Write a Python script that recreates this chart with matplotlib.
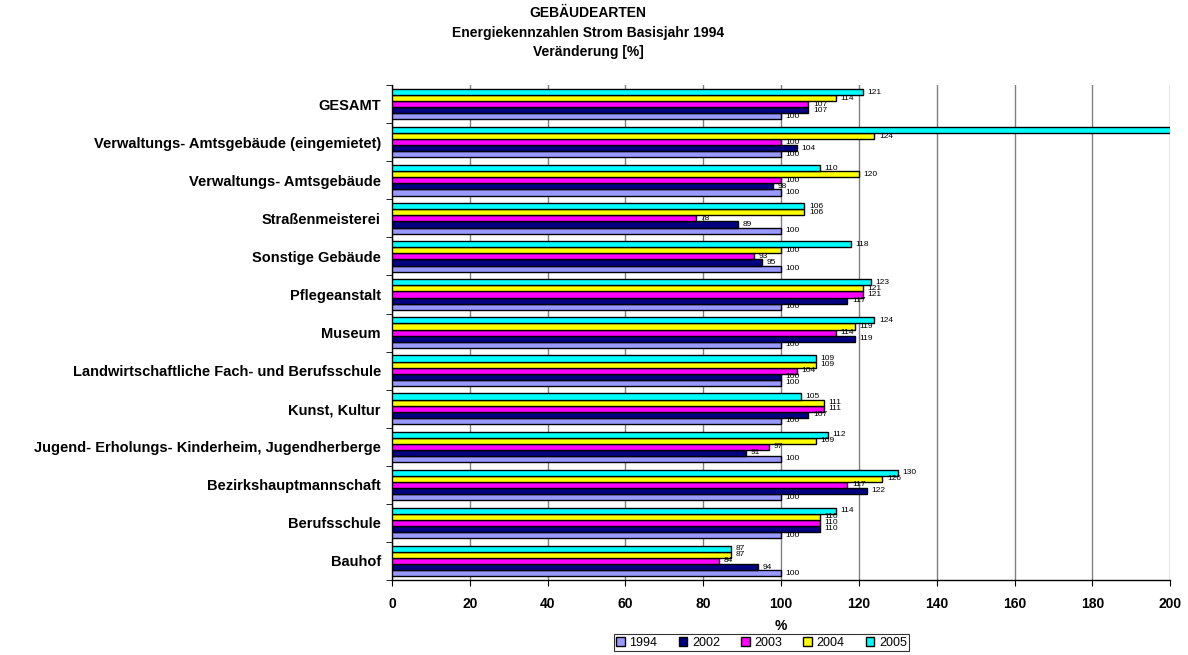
import numpy as np
import matplotlib.pyplot as plt

plt.rcParams['font.family'] = ['Liberation Sans', 'DejaVu Sans']

# categories bottom -> top, as in the chart
categories = [
    'Bauhof',
    'Berufsschule',
    'Bezirkshauptmannschaft',
    'Jugend- Erholungs- Kinderheim, Jugendherberge',
    'Kunst, Kultur',
    'Landwirtschaftliche Fach- und Berufsschule',
    'Museum',
    'Pflegeanstalt',
    'Sonstige Gebäude',
    'Straßenmeisterei',
    'Verwaltungs- Amtsgebäude',
    'Verwaltungs- Amtsgebäude (eingemietet)',
    'GESAMT',
]
years = ['1994', '2002', '2003', '2004', '2005']
v1994 = [100, 100, 100, 100, 100, 100, 100, 100, 100, 100, 100, 100, 100]
v2002 = [94, 110, 122, 91, 107, 100, 119, 117, 95, 89, 98, 104, 107]
v2003 = [84, 110, 117, 97, 111, 104, 114, 121, 93, 78, 100, 100, 107]
v2004 = [87, 110, 126, 109, 111, 109, 119, 121, 100, 106, 120, 124, 114]
v2005 = [87, 114, 130, 112, 105, 109, 124, 123, 118, 106, 110, 260, 121]
series = [v1994, v2002, v2003, v2004, v2005]
colors = ['#9999FF', '#000080', '#FF00FF', '#FFFF00', '#00FFFF']

xmax = 200

fig = plt.figure(figsize=(11.88, 6.55), dpi=100)
ax = fig.add_axes([0.33, 0.1145, 0.655, 0.7555])

y = np.arange(len(categories))
h = 0.16
for i, (vals, col, yr) in enumerate(zip(series, colors, years)):
    pos = y - 2 * h + i * h
    ax.barh(pos, vals, height=h, color=col, edgecolor='black', linewidth=1.0,
            label=yr, zorder=3)
    for p, v in zip(pos, vals):
        if v < xmax:  # label of the bar running off the chart is not shown
            ax.text(v + 1.2, p, str(v), fontsize=6, va='center', ha='left',
                    zorder=4)

ax.set_xlim(0, xmax)
ax.set_ylim(-0.5, len(categories) - 0.5)
ax.set_xticks(np.arange(0, xmax + 1, 20))
ax.set_xticklabels([str(t) for t in range(0, xmax + 1, 20)], fontweight='bold', fontsize=10)
ax.xaxis.grid(True, color='#808080', linewidth=1.0, zorder=0)
ax.tick_params(axis='x', length=4, pad=8)

ax.set_yticks(y)
ax.set_yticklabels(categories, fontweight='bold', fontsize=10.5)
ax.set_yticks(np.arange(-0.5, len(categories), 1), minor=True)
ax.tick_params(axis='y', which='major', length=0, pad=8)
ax.tick_params(axis='y', which='minor', length=4)

for s in ['top', 'right']:
    ax.spines[s].set_visible(False)
ax.spines['left'].set_linewidth(1.0)
ax.spines['bottom'].set_linewidth(1.0)

ax.set_xlabel('%', fontweight='bold', fontsize=10, labelpad=6)

fig.text(0.495, 0.980, 'GEBÄUDEARTEN', ha='center', va='center',
         fontweight='bold', fontsize=10)
fig.text(0.495, 0.950, 'Energiekennzahlen Strom Basisjahr 1994', ha='center',
         va='center', fontweight='bold', fontsize=10)
fig.text(0.495, 0.920, 'Veränderung [%]', ha='center', va='center',
         fontweight='bold', fontsize=10)

leg = fig.legend(loc='center', bbox_to_anchor=(0.641, 0.019), ncol=5,
                 fontsize=9, frameon=True, fancybox=False, handlelength=0.7,
                 handleheight=0.7, handletextpad=0.35, columnspacing=1.7,
                 borderpad=0.2, borderaxespad=0)
leg.get_frame().set_edgecolor('black')
leg.get_frame().set_linewidth(0.8)

fig.savefig('out.png', dpi=100)
